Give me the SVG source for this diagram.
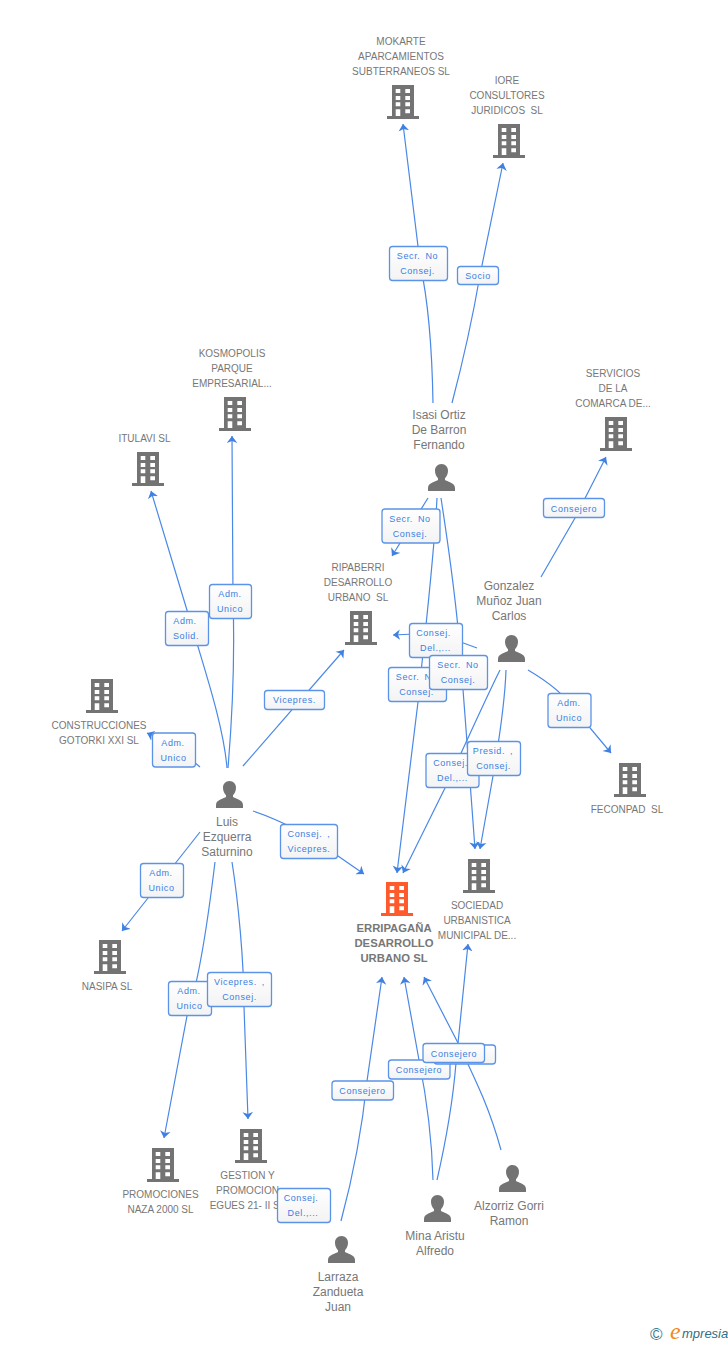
<svg xmlns="http://www.w3.org/2000/svg" width="728" height="1345" viewBox="0 0 728 1345">
<style>
text{font-family:"Liberation Sans",Arial,sans-serif}
.n{font-size:10px;fill:#777;text-anchor:middle}
.p{font-size:12px;fill:#777;text-anchor:middle}
.m{font-size:11.3px;font-weight:bold;fill:#777;text-anchor:middle}
.l{font-size:9px;fill:#3b7fe3;text-anchor:middle;letter-spacing:.6px;word-spacing:2px}
.c{fill:none;stroke:#4a88e6;stroke-width:1.2;marker-end:url(#a)}
.b{fill:url(#g);stroke:#5b93e8;stroke-width:1.3}
</style>
<defs>
<linearGradient id="g" x1="0" y1="0" x2="0" y2="1"><stop offset="0" stop-color="#fff"/><stop offset="1" stop-color="#f3f3f3"/></linearGradient>
<marker id="a" markerUnits="userSpaceOnUse" markerWidth="12" markerHeight="12" refX="7" refY="5.500" orient="auto"><path d="M7 5.500L0 .2L2 5.500L0 10.800Z" fill="#3f80e2"/></marker>
<symbol id="bld" width="32" height="34" viewBox="0 0 32 34"><path fill-rule="evenodd" fill="currentColor" d="M5 0H27V31H32V34H0V31H5ZM8.700 4V8H13.300V4ZM18.300 4V8H23V4ZM8.700 11V15H13.300V11ZM18.300 11V15H23V11ZM8.700 17.300V21.300H13.300V17.300ZM18.300 17.300V21.300H23V17.300ZM8.700 24.300V31H13.300V24.300ZM18.300 24.300V28.300H23V24.300Z"/></symbol>
<symbol id="per" width="27" height="27" viewBox="0 0 27 27"><path fill="#737373" d="M13.500 0C17.500 0 20 3 20 6.700C20 10 18.700 12.500 17 14.200V16C18.500 17.600 27 18.300 27 24V27H0V24C0 18.300 8.500 17.600 10 16V14.200C8.300 12.500 7 10 7 6.700C7 3 9.500 0 13.500 0Z"/></symbol>
</defs>
<rect width="728" height="1345" fill="#fff"/>
<g id="connectors">
<path class="c" d="M433 403C432 345 428 300 420.300 265L403 124"/>
<path class="c" d="M452 403C462 365 474 310 480 275L503 163"/>
<path class="c" d="M428 498L392 556"/>
<path class="c" d="M437 498C434 560 424 640 418 702L397 873"/>
<path class="c" d="M441 498C449 550 456 600 460 650C463 690 470 780 475 849"/>
<path class="c" d="M477 648L436 633L393 635"/>
<path class="c" d="M506 670C505 700 500 735 493 776L480 849"/>
<path class="c" d="M500 670C485 700 465 745 445 788L403 873"/>
<path class="c" d="M541 577L575 518L606 457"/>
<path class="c" d="M528 670C545 680 565 695 575 710L611 753"/>
<path class="c" d="M227 768C224 730 208 680 196 640L151 491"/>
<path class="c" d="M228 768C232 720 235 660 233 600L232 436"/>
<path class="c" d="M243 766L344 650"/>
<path class="c" d="M200 767L174 745L147 733"/>
<path class="c" d="M253 811C280 820 320 840 338 856L364 874"/>
<path class="c" d="M200 832L122 931"/>
<path class="c" d="M215 862C208 920 198 985 187 1016L164 1138"/>
<path class="c" d="M232 862C238 900 244 960 244 1007L248 1119"/>
<path class="c" d="M341 1221C352 1180 362 1130 367 1081L382 977"/>
<path class="c" d="M433 1180C432 1140 428 1105 419 1060L404 977"/>
<path class="c" d="M437 1180C445 1145 453 1100 456 1063L468 944"/>
<path class="c" d="M501 1150C490 1110 478 1085 458 1043L424 977"/>
</g>
<g id="mokarte"><use href="#bld" x="387" y="85" color="#737373"/><text class="n"><tspan x="401" y="45">MOKARTE</tspan><tspan x="401" y="60">APARCAMIENTOS</tspan><tspan x="401" y="75">SUBTERRANEOS SL</tspan></text></g>
<g id="iore"><use href="#bld" x="493" y="124" color="#737373"/><text class="n"><tspan x="507" y="84">IORE</tspan><tspan x="507" y="99">CONSULTORES</tspan><tspan x="507" y="114" xml:space="preserve">JURIDICOS  SL</tspan></text></g>
<g id="kosmopolis"><use href="#bld" x="219" y="397" color="#737373"/><text class="n"><tspan x="232" y="357">KOSMOPOLIS</tspan><tspan x="232" y="372">PARQUE</tspan><tspan x="232" y="387">EMPRESARIAL...</tspan></text></g>
<g id="itulavi"><use href="#bld" x="132" y="452" color="#737373"/><text class="n" x="144.500" y="442">ITULAVI SL</text></g>
<g id="servicios"><use href="#bld" x="600" y="417" color="#737373"/><text class="n"><tspan x="613" y="377">SERVICIOS</tspan><tspan x="613" y="392">DE LA</tspan><tspan x="613" y="407">COMARCA DE...</tspan></text></g>
<g id="ripaberri"><use href="#bld" x="345" y="611" color="#737373"/><text class="n"><tspan x="358" y="571">RIPABERRI</tspan><tspan x="358" y="586">DESARROLLO</tspan><tspan x="358" y="601" xml:space="preserve">URBANO  SL</tspan></text></g>
<g id="gotorki"><use href="#bld" x="86" y="679" color="#737373"/><text class="n"><tspan x="99" y="729">CONSTRUCCIONES</tspan><tspan x="99" y="744">GOTORKI XXI SL</tspan></text></g>
<g id="feconpad"><use href="#bld" x="614" y="763" color="#737373"/><text class="n" x="627" y="813" xml:space="preserve">FECONPAD  SL</text></g>
<g id="sociedad"><use href="#bld" x="463" y="859" color="#737373"/><text class="n"><tspan x="477" y="909">SOCIEDAD</tspan><tspan x="477" y="924">URBANISTICA</tspan><tspan x="477" y="939">MUNICIPAL DE...</tspan></text></g>
<g id="erripagana"><use href="#bld" x="381" y="882" color="#ff5a2b"/><text class="m"><tspan x="394" y="932">ERRIPAGAÑA</tspan><tspan x="394" y="947">DESARROLLO</tspan><tspan x="394" y="962">URBANO SL</tspan></text></g>
<g id="nasipa"><use href="#bld" x="94" y="940" color="#737373"/><text class="n" x="107" y="990">NASIPA SL</text></g>
<g id="promociones"><use href="#bld" x="147" y="1148" color="#737373"/><text class="n"><tspan x="160.500" y="1198">PROMOCIONES</tspan><tspan x="160.500" y="1213">NAZA 2000 SL</tspan></text></g>
<g id="gestion"><use href="#bld" x="235" y="1129" color="#737373"/><text class="n"><tspan x="247.500" y="1179">GESTION Y</tspan><tspan x="247.500" y="1194">PROMOCION</tspan><tspan x="247.500" y="1209">EGUES 21- II SL</tspan></text></g>
<g id="isasi"><use href="#per" x="428" y="464"/><text class="p"><tspan x="439" y="419">Isasi Ortiz</tspan><tspan x="439" y="434">De Barron</tspan><tspan x="439" y="449">Fernando</tspan></text></g>
<g id="gonzalez"><use href="#per" x="498" y="635"/><text class="p"><tspan x="509" y="590">Gonzalez</tspan><tspan x="509" y="605">Muñoz Juan</tspan><tspan x="509" y="620">Carlos</tspan></text></g>
<g id="luis"><use href="#per" x="216" y="781"/><text class="p"><tspan x="227" y="826">Luis</tspan><tspan x="227" y="841">Ezquerra</tspan><tspan x="227" y="856">Saturnino</tspan></text></g>
<g id="larraza"><use href="#per" x="328" y="1236"/><text class="p"><tspan x="338" y="1281">Larraza</tspan><tspan x="338" y="1296">Zandueta</tspan><tspan x="338" y="1311">Juan</tspan></text></g>
<g id="mina"><use href="#per" x="424" y="1195"/><text class="p"><tspan x="435" y="1240">Mina Aristu</tspan><tspan x="435" y="1255">Alfredo</tspan></text></g>
<g id="alzorriz"><use href="#per" x="499" y="1165"/><text class="p"><tspan x="509" y="1210">Alzorriz Gorri</tspan><tspan x="509" y="1225">Ramon</tspan></text></g>
<g id="connector-labels">
<rect class="b" x="389.500" y="246.500" width="58" height="34" rx="3"/><text class="l"><tspan x="417.500" y="259">Secr. No</tspan><tspan x="417.500" y="274">Consej.</tspan></text>
<rect class="b" x="457.500" y="266.500" width="41" height="18" rx="3"/><text class="l" x="478" y="279">Socio</text>
<rect class="b" x="382" y="509" width="58" height="34" rx="3"/><text class="l"><tspan x="410" y="522">Secr. No</tspan><tspan x="410" y="537">Consej.</tspan></text>
<rect class="b" x="388.500" y="667.500" width="58" height="34" rx="3"/><text class="l"><tspan x="416.500" y="680">Secr. No</tspan><tspan x="416.500" y="695">Consej.</tspan></text>
<rect class="b" x="409.500" y="623.500" width="53" height="34" rx="3"/><text class="l"><tspan x="433.500" y="636">Consej.</tspan><tspan x="435.500" y="651">Del.,...</tspan></text>
<rect class="b" x="429.500" y="655.500" width="58" height="34" rx="3"/><text class="l"><tspan x="458" y="668">Secr. No</tspan><tspan x="458" y="683">Consej.</tspan></text>
<rect class="b" x="543.500" y="498.500" width="61" height="19" rx="3"/><text class="l" x="574" y="512">Consejero</text>
<rect class="b" x="548" y="693.500" width="43" height="34" rx="3"/><text class="l"><tspan x="569" y="706">Adm.</tspan><tspan x="569" y="721">Unico</tspan></text>
<rect class="b" x="426" y="753.500" width="53" height="34" rx="3"/><text class="l"><tspan x="450.500" y="766">Consej.</tspan><tspan x="452.500" y="781">Del.,...</tspan></text>
<rect class="b" x="467.500" y="741.500" width="53" height="34" rx="3"/><text class="l"><tspan x="493" y="754">Presid. ,</tspan><tspan x="493.500" y="769">Consej.</tspan></text>
<rect class="b" x="264.500" y="690.500" width="60" height="19" rx="3"/><text class="l" x="294.500" y="703">Vicepres.</text>
<rect class="b" x="209.500" y="584.500" width="42" height="34" rx="3"/><text class="l"><tspan x="230" y="597">Adm.</tspan><tspan x="230" y="612">Unico</tspan></text>
<rect class="b" x="165.500" y="611.500" width="43" height="34" rx="3"/><text class="l"><tspan x="185" y="624">Adm.</tspan><tspan x="186" y="639">Solid.</tspan></text>
<rect class="b" x="152.500" y="733" width="43" height="34" rx="3"/><text class="l"><tspan x="173" y="746">Adm.</tspan><tspan x="173.500" y="761">Unico</tspan></text>
<rect class="b" x="280.500" y="824.500" width="57" height="34" rx="3"/><text class="l"><tspan x="309" y="837">Consej. ,</tspan><tspan x="309" y="852">Vicepres.</tspan></text>
<rect class="b" x="140.500" y="863.500" width="43" height="34" rx="3"/><text class="l"><tspan x="161" y="876">Adm.</tspan><tspan x="161.500" y="891">Unico</tspan></text>
<rect class="b" x="168.500" y="981.500" width="43" height="34" rx="3"/><text class="l"><tspan x="189" y="994">Adm.</tspan><tspan x="189.500" y="1009">Unico</tspan></text>
<rect class="b" x="207.500" y="972.500" width="64" height="34" rx="3"/><text class="l"><tspan x="239.500" y="985">Vicepres. ,</tspan><tspan x="239.500" y="1000">Consej.</tspan></text>
<rect class="b" x="277.500" y="1188.500" width="53" height="34" rx="3"/><text class="l"><tspan x="301" y="1201">Consej.</tspan><tspan x="303" y="1216">Del.,...</tspan></text>
<rect class="b" x="332" y="1081" width="61.500" height="19" rx="3"/><text class="l" x="362.500" y="1094">Consejero</text>
<rect class="b" x="388.500" y="1060" width="61.500" height="19" rx="3"/><text class="l" x="419" y="1073">Consejero</text>
<rect class="b" x="434" y="1045" width="61.500" height="19" rx="3"/>
<rect class="b" x="423" y="1043.500" width="61.500" height="19" rx="3"/><text class="l" x="454" y="1057">Consejero</text>
</g>
<g id="logo">
<text x="650" y="1340" font-size="17" fill="#3f7a8c">©</text>
<text x="670" y="1339" font-size="24" font-style="italic" fill="#f08a1d" style="font-family:'Liberation Serif',serif">e</text>
<text x="682" y="1338" font-size="13" font-style="italic" fill="#2f6f85">mpresia</text>
</g>
</svg>
